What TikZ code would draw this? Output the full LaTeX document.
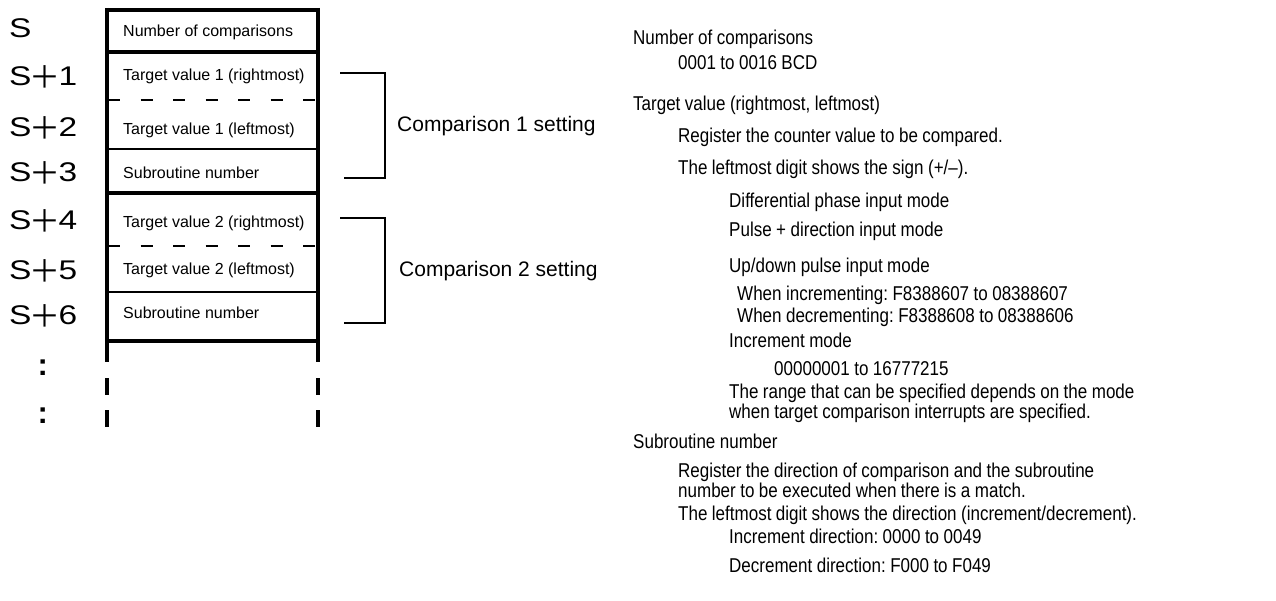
\documentclass[tikz,border=0pt]{standalone}
\usepackage{fontspec}
\setmainfont{Liberation Sans}
\newfontfamily\narrowfont{Liberation Sans}[FakeStretch=0.85,WordSpace=0.95]
\newfontfamily\widefont{Liberation Sans}[FakeStretch=1.24,WordSpace=1.24]
\newfontfamily\cjkfont{Noto Sans CJK JP}
\newcommand{\pls}{\hspace{-2pt}\raisebox{-2.5pt}{\cjkfont\fontsize{31}{31}\selectfont ＋}\hspace{-2pt}}
\frenchspacing
\begin{document}
\begin{tikzpicture}[x=1pt,y=-1pt,
  addr/.style={anchor=base west,inner sep=0pt,font=\widefont\fontsize{27}{27}\selectfont},
  cell/.style={anchor=base west,inner sep=0pt,font=\fontsize{16}{16}\selectfont},
  desc/.style={anchor=base west,inner sep=0pt,font=\narrowfont\fontsize{20}{20}\selectfont},
  grp/.style={anchor=base west,inner sep=0pt,font=\fontsize{21}{21}\selectfont},
  dots/.style={anchor=base west,inner sep=0pt,font=\bfseries\fontsize{31}{31}\selectfont},
  heavy/.style={line width=4pt},
  light/.style={line width=1.5pt},
  split/.style={line width=2pt,dash pattern=on 12pt off 20.5pt},
  brace/.style={line width=1.5pt}]
\useasboundingbox (0,0) rectangle (1276,601);

% address labels
\node[addr] (s0) at (9,38) {S};
\node[addr] (s1) at (9,86) {S\pls1};
\node[addr] (s2) at (9,137) {S\pls2};
\node[addr] (s3) at (9,182) {S\pls3};
\node[addr] (s4) at (9,230) {S\pls4};
\node[addr] (s5) at (9,280) {S\pls5};
\node[addr] (s6) at (9,325) {S\pls6};
\node[dots] (c1) at (37.5,375) {:};
\node[dots] (c2) at (37.5,423) {:};

% table frame
\coordinate (tl) at (107,8);
\coordinate (tr) at (318,8);
\coordinate (bl) at (107,362);
\coordinate (br) at (318,362);
\draw[heavy] (105,10) -- (320,10);
\draw[heavy] (tl) -- (bl);
\draw[heavy] (tr) -- (br);
\draw[heavy] (105,52) -- (320,52);
\draw[split] (108,100) -- (318,100);
\draw[light] (107,149) -- (318,149);
\draw[heavy] (105,193) -- (320,193);
\draw[split] (108,246) -- (318,246);
\draw[light] (107,292) -- (318,292);
\draw[heavy] (105,341) -- (320,341);
\draw[heavy] (107,378) -- (107,395);
\draw[heavy] (107,410) -- (107,427);
\draw[heavy] (318,378) -- (318,395);
\draw[heavy] (318,410) -- (318,427);

% cell texts
\node[cell] (n0) at (123,37) {Number of comparisons};
\node[cell] (n1) at (123,81) {Target value 1 (rightmost)};
\node[cell] (n2) at (123,135) {Target value 1 (leftmost)};
\node[cell] (n3) at (123,179) {Subroutine number};
\node[cell] (n4) at (123,228) {Target value 2 (rightmost)};
\node[cell] (n5) at (123,275) {Target value 2 (leftmost)};
\node[cell] (n6) at (123,319) {Subroutine number};

% brackets
\coordinate (a1) at (340,73);
\coordinate (a2) at (385,73);
\coordinate (a3) at (385,178);
\coordinate (a4) at (344,178);
\draw[brace] (a1) -- (a2) -- (a3) -- (a4);
\coordinate (b1) at (340,218);
\coordinate (b2) at (385,218);
\coordinate (b3) at (385,323);
\coordinate (b4) at (344,323);
\draw[brace] (b1) -- (b2) -- (b3) -- (b4);
\node[grp] (g1) at (397,132) {Comparison 1 setting};
\node[grp] (g2) at (399,277) {Comparison 2 setting};

% descriptions
\node[desc] (d1) at (633,45) {Number of comparisons};
\node[desc] (d2) at (678,70) {0001 to 0016 BCD};
\node[desc] (d3) at (633,111) {Target value (rightmost, leftmost)};
\node[desc] (d4) at (678,143) {Register the counter value to be compared.};
\node[desc] (d5) at (678,175) {The leftmost digit shows the sign (+/–).};
\node[desc] (d6) at (729,208) {Differential phase input mode};
\node[desc] (d7) at (729,237) {Pulse + direction input mode};
\node[desc] (d8) at (729,273) {Up/down pulse input mode};
\node[desc] (d9) at (737,301) {When incrementing: F8388607 to 08388607};
\node[desc] (d10) at (737,323) {When decrementing: F8388608 to 08388606};
\node[desc] (d11) at (729,347) {Increment mode};
\node[desc] (d12) at (774,375) {00000001 to 16777215};
\node[desc] (d13) at (729,398) {The range that can be specified depends on the mode};
\node[desc] (d14) at (729,418) {when target comparison interrupts are specified.};
\node[desc] (d15) at (633,448) {Subroutine number};
\node[desc] (d16) at (678,477) {Register the direction of comparison and the subroutine};
\node[desc] (d17) at (678,497) {number to be executed when there is a match.};
\node[desc] (d18) at (678,520) {The leftmost digit shows the direction (increment/decrement).};
\node[desc] (d19) at (729,543) {Increment direction: 0000 to 0049};
\node[desc] (d20) at (729,572) {Decrement direction: F000 to F049};
\end{tikzpicture}
\end{document}
